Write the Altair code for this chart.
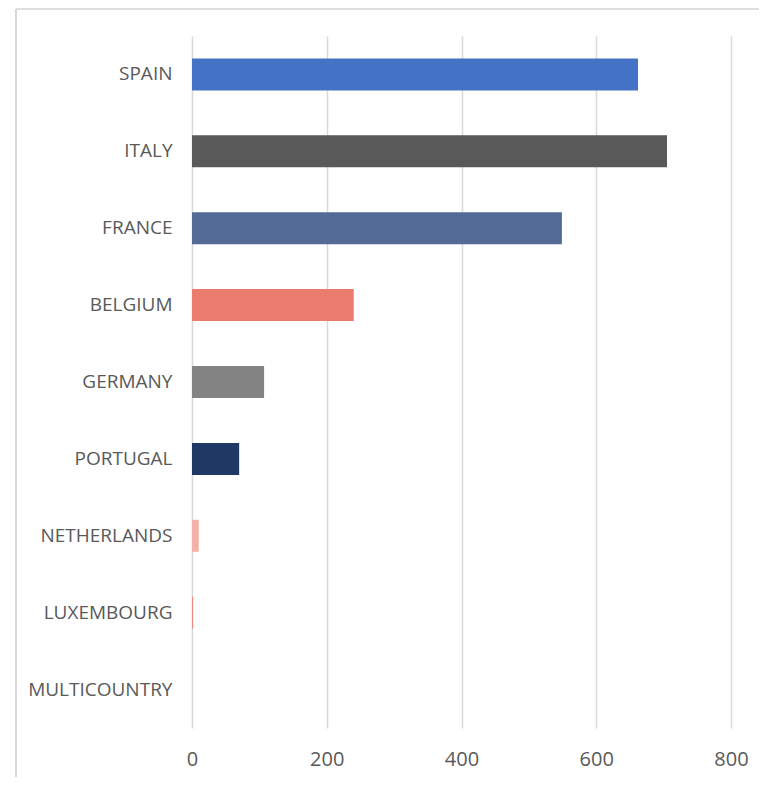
import altair as alt
import pandas as pd

countries = ["SPAIN", "ITALY", "FRANCE", "BELGIUM", "GERMANY", "PORTUGAL",
             "NETHERLANDS", "LUXEMBOURG", "MULTICOUNTRY"]
values = [662, 705, 549, 240, 107, 70, 10, 1.5, 0]
colors = ["#4472C4", "#595959", "#546A96", "#EB7B6E", "#838383", "#203864",
          "#F4B1A7", "#E9897C", "#A5A5A5"]
x_ticks = [0, 200, 400, 600, 800]

df = pd.DataFrame({"country": countries, "value": values})

FONT = "Open Sans"
LABEL_COLOR = "#595959"
GRID_COLOR = "#D9D9D9"
FRAME_COLOR = "#BFBFBF"

one = pd.DataFrame({"a": [0]})
frame_left = alt.Chart(one).mark_rule(
    color=FRAME_COLOR, strokeWidth=1.2, clip=False
).encode(x=alt.value(-176), y=alt.value(-27), y2=alt.value(741))
frame_top = alt.Chart(one).mark_rule(
    color=FRAME_COLOR, strokeWidth=1.2, clip=False
).encode(x=alt.value(-176), x2=alt.value(567), y=alt.value(-27))

bars = alt.Chart(df).mark_bar(size=32).encode(
    y=alt.Y("country:N", sort=countries, title=None,
            scale=alt.Scale(paddingInner=0.6, paddingOuter=0.3),
            axis=alt.Axis(domain=False, ticks=False, labelFont=FONT,
                          labelFontSize=19, labelColor=LABEL_COLOR,
                          labelPadding=20, labelLimit=300)),
    x=alt.X("value:Q", title=None,
            scale=alt.Scale(domain=[0, 800], nice=False),
            axis=alt.Axis(values=x_ticks, domain=False, ticks=False,
                          grid=True, gridColor=GRID_COLOR, gridWidth=1.5,
                          labelFlush=False,
                          labelFont=FONT, labelFontSize=20,
                          labelColor=LABEL_COLOR, labelPadding=21)),
    color=alt.Color("country:N", scale=alt.Scale(domain=countries, range=colors),
                    legend=None),
)

chart = alt.layer(frame_left, frame_top, bars).properties(
    width=539, height=692,
    autosize=alt.AutoSizeParams(type="none"),
    padding={"left": 184, "top": 28, "right": 28, "bottom": 49},
    background="white",
).configure_view(stroke=None)

chart.save("out.html", embed_options={"renderer": "svg", "actions": False})
